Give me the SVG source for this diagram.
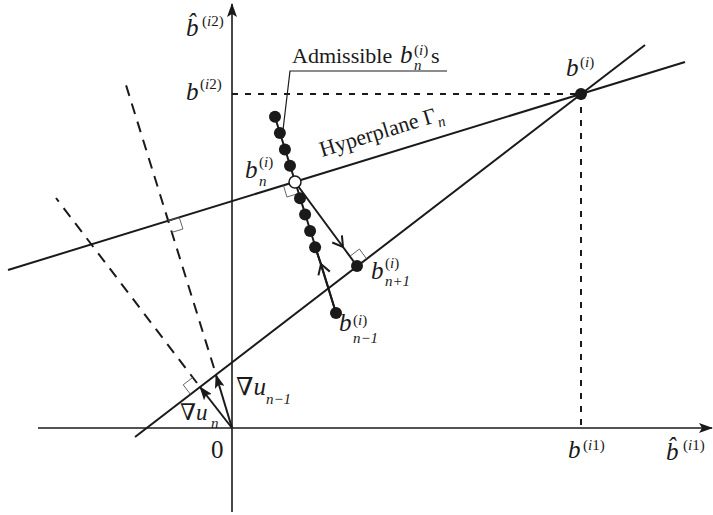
<svg xmlns="http://www.w3.org/2000/svg" width="713" height="515" viewBox="0 0 713 515" font-family="'Liberation Serif', 'Times New Roman', 'DejaVu Serif', serif">
<style>
.ax{stroke:#1a1a1a;stroke-width:1.6;fill:none}
.ln{stroke:#1a1a1a;stroke-width:2;fill:none}
.dash{stroke:#1a1a1a;stroke-width:2;fill:none;stroke-dasharray:11 8}
.dot2{stroke:#1a1a1a;stroke-width:2;fill:none;stroke-dasharray:6 7}
.ra{stroke:#555;stroke-width:0.9;fill:none}
.lead{stroke:#1a1a1a;stroke-width:1.2;fill:none}
.pt{fill:#1a1a1a}
.op{fill:#fff;stroke:#1a1a1a;stroke-width:1.5}
text{font-family:'Liberation Serif','Times New Roman','DejaVu Serif',serif;fill:#1a1a1a}
.it{font-style:italic}
.m{font-size:25px}
.s{font-size:15px}
.t{font-size:22px}
</style>
<defs>
<marker id="ah" viewBox="0 0 14 10" refX="13" refY="5" markerWidth="14" markerHeight="10" markerUnits="userSpaceOnUse" orient="auto"><path d="M0,0 L14,5 L0,10 L3,5 Z" fill="#1a1a1a"/></marker>
<marker id="chev" viewBox="-12 -8 14 16" refX="0" refY="0" markerWidth="14" markerHeight="16" markerUnits="userSpaceOnUse" orient="auto"><path d="M-10,-6 L0,0 L-10,6" fill="none" stroke="#1a1a1a" stroke-width="2"/></marker>
</defs>

<g id="axes">
<line class="ax" x1="232" y1="512" x2="232" y2="4" marker-end="url(#ah)"/>
<line class="ax" x1="38" y1="428" x2="712" y2="428" marker-end="url(#ah)"/>
<text class="m" x="211" y="458">0</text>
<text class="m it" x="186" y="36">b̂</text>
<text class="s" x="202" y="26">(<tspan class="it">i</tspan>2)</text>
<text class="m it" x="186" y="100">b</text>
<text class="s" x="200" y="89">(<tspan class="it">i</tspan>2)</text>
<text class="m it" x="568" y="458">b</text>
<text class="s" x="583" y="450">(<tspan class="it">i</tspan>1)</text>
<text class="m it" x="666" y="460">b̂</text>
<text class="s" x="683" y="450">(<tspan class="it">i</tspan>1)</text>
</g>

<g id="connectors">
<line class="dot2" x1="232" y1="94" x2="581" y2="94"/>
<line class="dot2" x1="581" y1="94" x2="581" y2="428"/>
<line id="hyperplane" class="ln" x1="8" y1="270" x2="685" y2="62"/>
<line id="line2" class="ln" x1="135" y1="437" x2="645" y2="45"/>
<line class="dash" x1="214" y1="368" x2="126" y2="85"/>
<line class="dash" x1="197" y1="383" x2="56" y2="198"/>
<line class="ln" x1="232" y1="428" x2="216" y2="375" marker-end="url(#ah)"/>
<line class="ln" x1="232" y1="428" x2="200" y2="387" marker-end="url(#ah)"/>
<line class="ln" x1="275" y1="117" x2="336" y2="313"/>
<path class="ln" d="M295,182 L343,247 L357,266" marker-mid="url(#chev)"/>
<path class="ln" d="M336,313 L321,264 L315,247" marker-mid="url(#chev)"/>
<polyline class="lead" points="447,71 290,71 283,130"/>
<path class="ra" d="M167.8,221 L179.3,217.5 L182.9,229 L171.4,232.5"/>
<path class="ra" d="M192.7,377.5 L183.2,384.8 L190.5,394.3"/>
<path class="ra" d="M283.5,185.5 L286.9,197 L298.4,193.5"/>
<path class="ra" d="M349.9,256.3 L359.4,249 L366.5,258.7"/>
</g>

<g id="admissible">
<circle class="pt" cx="275" cy="116.8" r="6"/>
<circle class="pt" cx="279.9" cy="133.1" r="6"/>
<circle class="pt" cx="284.9" cy="149.4" r="6"/>
<circle class="pt" cx="290" cy="165.7" r="6"/>
<circle class="pt" cx="300" cy="198.3" r="6"/>
<circle class="pt" cx="305.1" cy="214.6" r="6"/>
<circle class="pt" cx="310.1" cy="230.9" r="6"/>
<circle class="pt" cx="315.1" cy="247.2" r="6"/>
<text class="t" x="292" y="63">Admissible</text>
<text class="m it" x="400" y="63">b</text>
<text class="s" x="414" y="55">(<tspan class="it">i</tspan>)</text>
<text class="s it" x="414" y="70">n</text>
<text class="t" x="431" y="63">s</text>
</g>

<g id="bn">
<circle class="op" cx="295" cy="182" r="6"/>
<text class="m it" x="245" y="178">b</text>
<text class="s" x="259" y="167">(<tspan class="it">i</tspan>)</text>
<text class="s it" x="259" y="186">n</text>
</g>

<g id="bn1">
<circle class="pt" cx="357" cy="266" r="6"/>
<text class="m it" x="371" y="279">b</text>
<text class="s" x="385" y="268">(<tspan class="it">i</tspan>)</text>
<text class="s it" x="385" y="286">n+1</text>
</g>

<g id="bnm1">
<circle class="pt" cx="336" cy="313" r="6"/>
<text class="m it" x="339" y="331">b</text>
<text class="s" x="353" y="325">(<tspan class="it">i</tspan>)</text>
<text class="s it" x="353" y="343">n−1</text>
</g>

<g id="bi">
<circle class="pt" cx="581" cy="94" r="6"/>
<text class="m it" x="566" y="76">b</text>
<text class="s" x="580" y="67">(<tspan class="it">i</tspan>)</text>
</g>

<g id="hyperlabel">
<text class="t" transform="translate(322,157) rotate(-17)">Hyperplane Γ<tspan class="it s" dy="6">n</tspan></text>
</g>

<g id="grads">
<text class="m" x="236" y="395">∇<tspan class="it">u</tspan></text>
<text class="s it" x="266" y="404">n−1</text>
<text x="180" y="420" style="font-size:23px">∇<tspan class="it">u</tspan></text>
<text class="s it" x="211" y="428">n</text>
</g>
</svg>
